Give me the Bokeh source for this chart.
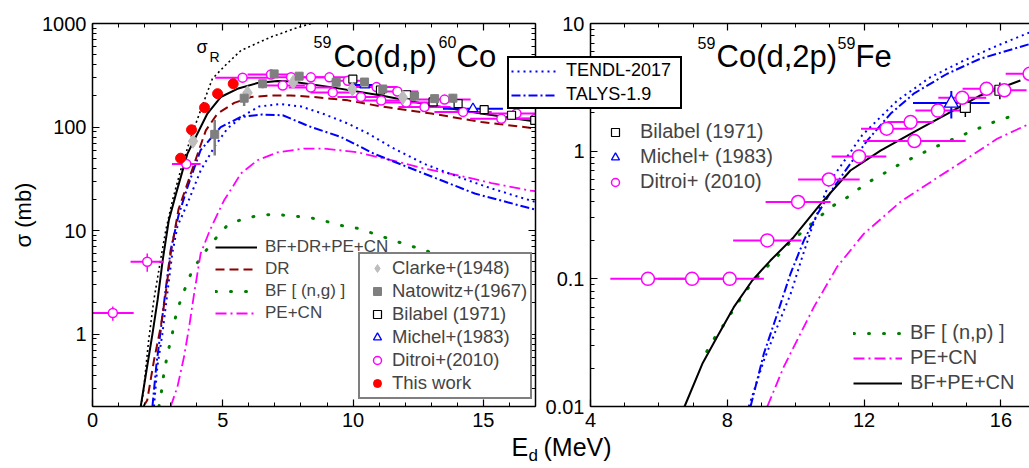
from math import log10

import numpy as np
from bokeh.embed import file_html
from bokeh.layouts import row
from bokeh.models import FixedTicker, Label, Legend, LegendItem, LinearAxis, LogAxis
from bokeh.plotting import figure
from bokeh.resources import INLINE

FONT = "Liberation Sans"
MAG = "#FF00FF"
BLUE = "#0000FF"
GREEN = "#008000"
DARKRED = "#8B0000"
RED = "#FF0000"
GRAY = "#7F7F7F"
LIGHTGRAY = "#BDBDBD"

# ---------------- 59Co(d,p)60Co : model curves (E_d in MeV, sigma in mb) ----------------
sigR_E = [1.85, 1.95, 2.15, 2.35, 2.6, 2.81, 3.07, 3.38, 3.77, 4.15, 4.6, 5.1, 5.7, 6.85, 7.9, 8.7]
sigR_s = [0.2, 0.27, 0.85, 2.1, 5.0, 10, 19.6, 38, 79, 145, 293, 395, 550, 740, 920, 1050]

tot_E = [1.85, 2.1, 2.3, 2.5, 2.7, 2.93, 3.19, 3.64, 4.09, 4.41, 4.92, 5.56, 6.33, 7.1, 7.62, 9.15, 11.08, 13.0, 14.92, 17.0]
tot_s = [0.2, 0.49, 1.0, 2.15, 5.3, 12.6, 22, 55, 93, 135, 195, 234, 266, 278, 276, 243, 202, 162, 135, 113]

dr_E = [1.95, 2.1, 2.36, 2.62, 2.81, 3.0, 3.3, 3.9, 4.35, 4.8, 5.44, 6.08, 6.85, 7.6, 8.5, 9.8, 11.08, 13.0, 14.92, 17.0]
dr_s = [0.2, 0.23, 0.56, 1.18, 2.47, 6.0, 16, 44, 93, 135, 171, 195, 202, 202, 195, 181, 158, 135, 112, 97]

bfng_E = [2.55, 2.62, 2.74, 2.9, 3.06, 3.19, 3.38, 3.58, 3.83, 4.22, 4.67, 5.18, 5.82, 6.46, 7.04, 7.62, 8.26,
          8.9, 9.47, 10.18, 10.76, 11.33, 11.91, 12.55, 13.13, 14.0, 15.0, 16.0, 17.0]
bfng_s = [0.2, 0.25, 0.42, 0.68, 1.0, 1.47, 2.13, 2.87, 4.15, 5.8, 8.1, 11.3, 13.1, 14.1, 14.4, 13.8, 13.5,
          12.4, 11.3, 10.5, 9.4, 8.4, 7.5, 6.7, 6.0, 5.1, 4.3, 3.6, 3.0]

pecn_E = [3.0, 3.26, 3.51, 3.71, 3.9, 4.15, 4.5, 4.8, 5.05, 5.4, 5.69, 6.33, 7.1, 8.13, 8.9, 10.18, 11.46, 12.74,
          14.03, 15.31, 16.72, 17.0]
pecn_s = [0.2, 0.31, 0.6, 1.18, 2.46, 6.0, 10, 14.5, 19.6, 27, 35.5, 47.8, 57, 62, 62, 57, 47.8, 39.7,
          34.2, 28.8, 24.5, 24]

tendl_E = [2.36, 2.49, 2.68, 2.87, 3.06, 3.26, 3.64, 4.15, 4.67, 5.18, 5.82, 6.4, 7.2, 8.0, 8.9, 9.8, 10.6,
           11.46, 12.74, 14.03, 15.31, 17.0]
tendl_s = [0.2, 0.49, 1.0, 2.46, 6.0, 11, 18.2, 38, 64, 97, 130, 158, 167, 158, 133, 108, 86,
           64, 44, 33, 25.5, 18.9]

talys_E = [2.3, 2.45, 2.62, 2.8, 3.0, 3.3, 3.64, 4.15, 4.92, 5.69, 6.5, 7.3, 8.3, 9.54, 10.82, 12.1, 13.38,
           14.67, 17.0]
talys_s = [0.2, 0.5, 1.1, 2.6, 6.5, 14, 26, 60, 100, 125, 132, 130, 102, 80, 55, 41, 30.6, 22.8, 15.9]

# ---------------- 59Co(d,p)60Co : measurements ----------------
clarke_E = [3.86, 5.95, 7.70, 9.97, 11.91]
clarke_s = [73, 214, 271, 232, 193]

natow_E = [4.69, 5.82, 6.53, 6.97, 7.93, 9.35, 10.44, 11.14, 12.36, 13.13, 13.83]
natow_s = [85, 190, 262, 326, 310, 271, 272, 233, 199, 188, 190]
natow_ds = [32, 30, 25, 30, 28, 25, 25, 22, 20, 18, 18]

bilL_E = [9.99, 11.05, 12.05, 13.07, 14.03, 15.03, 16.08, 16.97]
bilL_s = [290, 228, 205, 175, 168, 147, 130, 116]
bilL_ds = [25, 20, 18, 16, 14, 12, 11, 10]

michL_E = [10.45, 14.6]
michL_s = [255, 150]
michL_dE = [0.55, 1.15]

ditL_E = [0.78, 2.10, 3.60, 5.76, 6.85, 7.62, 8.38, 9.09, 9.80, 7.30, 8.38, 9.22, 10.30, 11.08, 12.04,
          10.90, 11.70, 12.74, 13.51, 14.22, 15.69, 16.27, 17.00]
ditL_s = [1.6, 5.0, 44, 300, 322, 302, 302, 302, 280, 252, 241, 216, 195, 180, 173,
          243, 220, 156, 184, 140, 120, 135, 121]
ditL_dE = [0.80, 0.64, 0.55, 1.05, 0.90, 0.75, 0.75, 0.75, 0.75, 0.85, 0.85, 0.85, 0.90, 0.95, 0.95,
           0.80, 0.80, 1.0, 1.0, 1.1, 1.2, 1.2, 1.0]
ditL_ds = [0.25, 1.0, 3, 14, 15, 13, 13, 13, 12, 11, 10, 10, 9, 8, 8,
           10, 9, 7, 8, 7, 6, 6, 6]

this_E = [3.38, 3.80, 4.30, 4.80, 5.40]
this_s = [50, 94, 154, 210, 262]

# ---------------- 59Co(d,2p)59Fe ----------------
fe_tot_E = [6.75, 7.27, 7.7, 8.19, 8.73, 9.26, 9.94, 10.73, 11.6, 12.48, 13.45, 14.43, 15.4, 16.57]
fe_tot_s = [0.01, 0.0216, 0.035, 0.06, 0.097, 0.139, 0.212, 0.387, 0.706, 1.01, 1.41, 1.96, 2.73, 3.58]

fe_bf_E = [7.4, 7.67, 7.98, 8.27, 8.6, 8.97, 9.41, 9.8, 10.24, 10.68, 11.11, 11.6, 12.04, 12.48, 12.92,
           13.36, 13.82, 14.28, 14.74, 15.2, 15.65, 16.08, 16.55]
fe_bf_s = [0.027, 0.036, 0.047, 0.063, 0.084, 0.11, 0.145, 0.188, 0.24, 0.304, 0.376, 0.45, 0.556, 0.645, 0.759,
           0.87, 1.0, 1.14, 1.29, 1.45, 1.64, 1.79, 1.99]

fe_pecn_E = [9.17, 9.65, 10.04, 10.53, 11.21, 11.99, 13.06, 13.94, 14.92, 15.89, 16.84]
fe_pecn_s = [0.01, 0.0204, 0.033, 0.06, 0.124, 0.225, 0.40, 0.572, 0.845, 1.25, 1.64]

fe_tendl_E = [8.63, 9.07, 9.46, 9.85, 10.19, 10.48, 10.73, 11.02, 11.5, 11.94, 12.38, 12.97, 13.94, 14.92,
              15.89, 16.84]
fe_tendl_s = [0.01, 0.023, 0.042, 0.076, 0.148, 0.254, 0.38, 0.59, 0.9, 1.33, 1.74, 2.49, 3.8, 5.13, 6.7, 8.5]

fe_talys_E = [8.68, 9.07, 9.46, 9.85, 10.24, 10.63, 11.11, 11.6, 12.09, 12.77, 13.45, 14.43, 15.4, 16.84]
fe_talys_s = [0.01, 0.026, 0.053, 0.11, 0.2, 0.32, 0.52, 0.8, 1.21, 1.96, 2.82, 4.04, 5.3, 6.9]

ditR_E = [5.68, 6.97, 8.07, 9.17, 10.07, 10.97, 11.85, 12.66, 13.36, 13.47, 14.16, 14.87, 15.58, 16.1, 16.84]
ditR_s = [0.1, 0.1, 0.1, 0.2, 0.4, 0.6, 0.91, 1.5, 1.69, 1.2, 2.08, 2.62, 3.08, 3.0, 4.04]
ditR_dE = [1.1, 1.0, 1.0, 1.0, 0.95, 0.9, 0.8, 0.75, 0.68, 1.5, 0.66, 0.7, 0.7, 0.65, 0.7]
ditR_ds = [0.01, 0.01, 0.01, 0.02, 0.04, 0.06, 0.08, 0.12, 0.13, 0.1, 0.15, 0.18, 0.2, 0.2, 0.25]

michR_E = [14.55]
michR_s = [2.38]
michR_dE = [1.12]
michR_ds = [0.58]

bilR_E = [14.96, 15.97]
bilR_s = [2.2, 3.0]
bilR_dE = [0.15, 0.15]
bilR_ds = [0.35, 0.45]

# axis ticks
dp_xticks = [0, 5, 10, 15]
dp_xtick_labels = ["0", "5", "10", "15"]
dp_yticks = [1, 10, 100, 1000]
dp_ytick_labels = ["1", "10", "100", "1000"]
d2p_xticks = [4, 8, 12, 16]
d2p_xtick_labels = ["4", "8", "12", "16"]
d2p_yticks = [0.01, 0.1, 1, 10]
d2p_ytick_labels = ["0.01", "0.1", "1", "10"]

# ---------------- frames ----------------
L_X = (0, 17)
L_Y = (0.2, 1000)
R_X = (4, 4 + 439 / 34.2)
R_Y = (0.01, 10)
W, H = 1029, 468


def hbars(p, E, s, dE, **kw):
    p.segment([e - d for e, d in zip(E, dE)], s, [e + d for e, d in zip(E, dE)], s, **kw)


def vbars(p, E, s, ds, **kw):
    p.segment(E, [v - d for v, d in zip(s, ds)], E, [v + d for v, d in zip(s, ds)], **kw)


def style_axis(ax, ticks, labels, minor, show_labels=True):
    ax.ticker = FixedTicker(ticks=ticks, minor_ticks=minor)
    ax.axis_line_width = 1.5
    ax.axis_line_color = "black"
    ax.major_tick_in = 7
    ax.major_tick_out = 0
    ax.minor_tick_in = 4
    ax.minor_tick_out = 0
    ax.major_tick_line_width = 1.2
    ax.minor_tick_line_width = 1
    ax.major_tick_line_color = "black"
    ax.minor_tick_line_color = "black"
    ax.major_label_text_font = FONT
    if show_labels:
        ax.major_label_overrides = dict(zip(ticks, labels))
        ax.major_label_text_color = "black"
        ax.major_label_text_font_size = "20px"
        ax.major_label_standoff = 6
    else:
        # tick marks only, no numbers on this side of the frame
        ax.major_label_overrides = {t: "" for t in ticks}
        ax.major_label_text_color = None
        ax.major_label_text_font_size = "1px"
        ax.major_label_standoff = 0


def log_minor(lo, hi):
    out = []
    for e in range(-3, 4):
        for k in range(2, 10):
            v = k * 10 ** e
            if lo <= v <= hi:
                out.append(v)
    return out


# ================= left panel: 59Co(d,p)60Co =================
p1 = figure(width=545, height=H, x_range=L_X, y_range=L_Y, y_axis_type="log",
            output_backend="svg", toolbar_location=None,
            min_border_left=92, min_border_right=10, min_border_top=23, min_border_bottom=61)
p1.grid.visible = False
p1.outline_line_color = None

lx_minor = list(range(0, 18))
ly_minor = log_minor(*L_Y)
style_axis(p1.xaxis[0], dp_xticks, dp_xtick_labels, lx_minor)
style_axis(p1.yaxis[0], dp_yticks, dp_ytick_labels, ly_minor)
top1 = LinearAxis()
style_axis(top1, dp_xticks, dp_xtick_labels, lx_minor, show_labels=False)
p1.add_layout(top1, "above")
right1 = LogAxis()
style_axis(right1, dp_yticks, dp_ytick_labels, ly_minor, show_labels=False)
p1.add_layout(right1, "right")
p1.yaxis[0].axis_label = "σ (mb)"
p1.yaxis[0].axis_label_text_font = FONT
p1.yaxis[0].axis_label_text_font_size = "22px"
p1.yaxis[0].axis_label_text_font_style = "normal"
p1.yaxis[0].axis_label_text_color = "black"
p1.yaxis[0].axis_label_standoff = 3

r_sigR = p1.line(sigR_E, sigR_s, line_color="black", line_width=1.6, line_dash="2 3")
r_bf = p1.line(bfng_E, bfng_s, line_color=GREEN, line_width=3, line_dash="1 14", line_cap="round")
r_pe = p1.line(pecn_E, pecn_s, line_color=MAG, line_width=1.8, line_dash="11 4 2 4")
r_tendl_L = p1.line(tendl_E, tendl_s, line_color=BLUE, line_width=2, line_dash="2 4")
r_talys_L = p1.line(talys_E, talys_s, line_color=BLUE, line_width=2, line_dash="9 3 2 3")
r_dr = p1.line(dr_E, dr_s, line_color=DARKRED, line_width=2, line_dash="9 5")
r_tot = p1.line(tot_E, tot_s, line_color="black", line_width=2)

hbars(p1, ditL_E, ditL_s, ditL_dE, line_color=MAG, line_width=2)
vbars(p1, ditL_E, ditL_s, ditL_ds, line_color=MAG, line_width=1.5)
hbars(p1, michL_E, michL_s, michL_dE, line_color=BLUE, line_width=2)
vbars(p1, natow_E, natow_s, natow_ds, line_color=GRAY, line_width=2.5)
vbars(p1, bilL_E, bilL_s, bilL_ds, line_color="black", line_width=1.5)

m_dit = p1.scatter(ditL_E, ditL_s, marker="circle", size=9, fill_color="white", line_color=MAG, line_width=1.5)
m_mich = p1.scatter(michL_E, michL_s, marker="triangle", size=10, fill_color="white", line_color=BLUE, line_width=1.3)
m_bil = p1.scatter(bilL_E, bilL_s, marker="square", size=8, fill_color="white", line_color="black", line_width=1.2)
m_clarke = p1.scatter(clarke_E, clarke_s, marker="diamond", size=14, fill_color=LIGHTGRAY, line_color=LIGHTGRAY)
m_nat = p1.scatter(natow_E, natow_s, marker="square", size=8, fill_color=GRAY, line_color=GRAY)
m_this = p1.scatter(this_E, this_s, marker="circle", size=10, fill_color=RED, line_color=RED)

leg_curves_L = Legend(items=[
    LegendItem(label="BF+DR+PE+CN", renderers=[r_tot]),
    LegendItem(label="DR", renderers=[r_dr]),
    LegendItem(label="BF [ (n,g) ]", renderers=[r_bf]),
    LegendItem(label="PE+CN", renderers=[r_pe]),
], location=(123, 83), orientation="vertical", padding=0, margin=0, spacing=2,
    glyph_width=42, glyph_height=20, label_height=20, label_standoff=8,
    label_text_font=FONT, label_text_font_size="17px",
    background_fill_alpha=0, border_line_color=None)
p1.add_layout(leg_curves_L)

leg_data_L = Legend(items=[
    LegendItem(label="Clarke+(1948)", renderers=[m_clarke]),
    LegendItem(label="Natowitz+(1967)", renderers=[m_nat]),
    LegendItem(label="Bilabel (1971)", renderers=[m_bil]),
    LegendItem(label="Michel+(1983)", renderers=[m_mich]),
    LegendItem(label="Ditroi+(2010)", renderers=[m_dit]),
    LegendItem(label="This work", renderers=[m_this]),
], location=(266, 7), orientation="vertical", padding=3, margin=0, spacing=1,
    glyph_width=28, glyph_height=20, label_height=20, label_standoff=1,
    label_text_font=FONT, label_text_font_size="18.5px",
    background_fill_color="white", background_fill_alpha=1,
    border_line_color="black", border_line_width=2)
p1.add_layout(leg_data_L)

# ================= right panel: 59Co(d,2p)59Fe =================
p2 = figure(width=529, height=H, x_range=R_X, y_range=R_Y, y_axis_type="log",
            output_backend="svg", toolbar_location=None,
            min_border_left=90, min_border_right=0, min_border_top=23, min_border_bottom=62)
p2.grid.visible = False
p2.outline_line_color = None
p2.background_fill_color = None
p2.border_fill_color = None
p2.margin = (0, 0, 0, -45)

rx_minor = list(range(4, 18))
ry_minor = log_minor(*R_Y)
style_axis(p2.xaxis[0], d2p_xticks, d2p_xtick_labels, rx_minor)
style_axis(p2.yaxis[0], d2p_yticks, d2p_ytick_labels, ry_minor)
top2 = LinearAxis()
style_axis(top2, d2p_xticks, d2p_xtick_labels, rx_minor, show_labels=False)
p2.add_layout(top2, "above")

q_bf = p2.line(fe_bf_E, fe_bf_s, line_color=GREEN, line_width=3, line_dash="1 14", line_cap="round")
q_pe = p2.line(fe_pecn_E, fe_pecn_s, line_color=MAG, line_width=1.8, line_dash="11 4 2 4")
q_tendl = p2.line(fe_tendl_E, fe_tendl_s, line_color=BLUE, line_width=2, line_dash="2 4")
q_talys = p2.line(fe_talys_E, fe_talys_s, line_color=BLUE, line_width=2, line_dash="9 3 2 3")
q_tot = p2.line(fe_tot_E, fe_tot_s, line_color="black", line_width=2)

hbars(p2, ditR_E, ditR_s, ditR_dE, line_color=MAG, line_width=2)
vbars(p2, ditR_E, ditR_s, ditR_ds, line_color=MAG, line_width=1.5)
hbars(p2, michR_E, michR_s, michR_dE, line_color=BLUE, line_width=2)
vbars(p2, michR_E, michR_s, michR_ds, line_color=BLUE, line_width=2)
hbars(p2, bilR_E, bilR_s, bilR_dE, line_color="black", line_width=1.5)
vbars(p2, bilR_E, bilR_s, bilR_ds, line_color="black", line_width=1.5)

n_bil = p2.scatter(bilR_E, bilR_s, marker="square", size=10, fill_color="white", line_color="black", line_width=1.2)
n_mich = p2.scatter(michR_E, michR_s, marker="triangle", size=14, fill_color="white", line_color=BLUE, line_width=1.3)
n_dit = p2.scatter(ditR_E, ditR_s, marker="circle", size=13, fill_color="white", line_color=MAG, line_width=1.5)

leg_data_R = Legend(items=[
    LegendItem(label="Bilabel (1971)", renderers=[n_bil]),
    LegendItem(label="Michel+ (1983)", renderers=[n_mich]),
    LegendItem(label="Ditroi+ (2010)", renderers=[n_dit]),
], location=(12, 213), orientation="vertical", padding=0, margin=0, spacing=2,
    glyph_width=26, glyph_height=20, label_height=20, label_standoff=12,
    label_text_font=FONT, label_text_font_size="20px",
    background_fill_alpha=0, border_line_color=None)
p2.add_layout(leg_data_R)

leg_curves_R = Legend(items=[
    LegendItem(label="BF [ (n,p) ]", renderers=[q_bf]),
    LegendItem(label="PE+CN", renderers=[q_pe]),
    LegendItem(label="BF+PE+CN", renderers=[q_tot]),
], location=(263, 12), orientation="vertical", padding=0, margin=0, spacing=2,
    glyph_width=49, glyph_height=20, label_height=20, label_standoff=8,
    label_text_font=FONT, label_text_font_size="20px",
    background_fill_alpha=0, border_line_color=None)
p2.add_layout(leg_curves_R)

# ================= transparent top layer (pixel coordinates, y downwards) =================
# holds the texts and the code legend that straddle both panels
p3 = figure(width=W, height=H, x_range=(0, W), y_range=(H, 0),
            output_backend="svg", toolbar_location=None,
            x_axis_location=None, y_axis_location=None,
            min_border=0, min_border_left=0, min_border_right=0, min_border_top=0, min_border_bottom=0)
p3.frame_align = False
p3.grid.visible = False
p3.outline_line_color = None
p3.background_fill_color = None
p3.border_fill_color = None
p3.margin = (0, 0, 0, -W)

# legend keys for the two nuclear-model codes (same styles as their curves in both panels);
# the key renderers hold no drawable points
no_pts = np.array([np.nan, np.nan])
k_tendl = p3.line(no_pts, no_pts, line_color=BLUE, line_width=2, line_dash="2 4")
k_talys = p3.line(no_pts, no_pts, line_color=BLUE, line_width=2, line_dash="9 3 2 3")
leg_codes = Legend(items=[
    LegendItem(label="TENDL-2017", renderers=[k_tendl]),
    LegendItem(label="TALYS-1.9", renderers=[k_talys]),
], location=(507, H - 109), orientation="vertical", padding=2, margin=0, spacing=3,
    glyph_width=46, glyph_height=20, label_height=20, label_width=112, label_standoff=9,
    label_text_font=FONT, label_text_font_size="18px", label_text_color="black",
    background_fill_color="white", background_fill_alpha=1,
    border_line_color="black", border_line_width=2, border_line_alpha=1)
p3.add_layout(leg_codes)

# (x of left edge, y of baseline, text, size in px); anchors sit at the letters' mid-height
texts = [
    # reaction titles with mass-number superscripts
    (313, 47, "59", 16), (333, 66.7, "Co(d,p)", 31),
    (438, 47, "60", 16), (456, 66.7, "Co", 31),
    (697, 48, "59", 16), (716, 66.7, "Co(d,2p)", 31),
    (837, 48, "59", 16), (855, 66.7, "Fe", 31),
    # reaction cross section label
    (196, 53, "σ", 18), (209, 62, "R", 14),
    # common energy axis title
    (511, 455, "E", 25), (528, 461, "d", 17), (543, 455, "(MeV)", 25),
]
for px, base, txt, sz in texts:
    p3.add_layout(Label(x=px, y=base - 0.36 * sz, text=txt, text_font=FONT, text_font_size=f"{sz}px",
                        text_color="black", text_baseline="alphabetic", text_align="left"))

layout = row(p1, p2, p3)
open("out.html", "w").write(file_html(layout, INLINE))
